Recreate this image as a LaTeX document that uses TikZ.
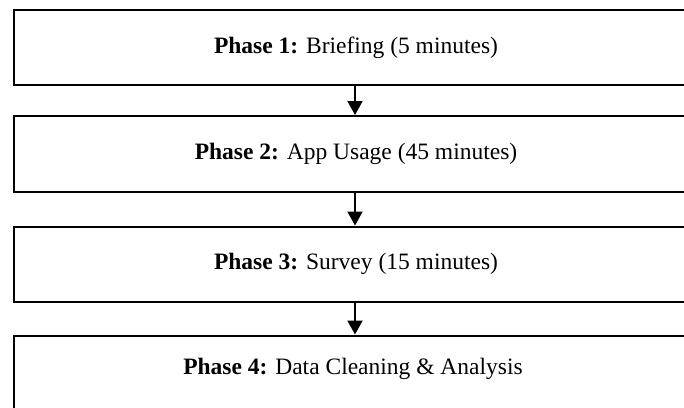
\documentclass[tikz,border=0pt]{standalone}
\usepackage{fontspec}
\setmainfont{Liberation Serif}
\usetikzlibrary{arrows.meta}
\begin{document}
\begin{tikzpicture}[x=1pt,y=-1pt,
  phasebox/.style={draw=black, line width=2pt, fill=white,
    minimum width=684pt, inner sep=0pt, font=\fontsize{23.5}{27}\selectfont},
  phasetext/.style={inner sep=0pt, font=\fontsize{23.5}{27}\selectfont},
  flow/.style={line width=2pt, -{Triangle[width=15pt,length=14pt]}}]
\useasboundingbox (0,0) rectangle (684,407);
\clip (0,0) rectangle (684,407);
\node[phasebox, minimum height=75pt] (p1) at (356,47.5) {\textbf{Phase 1:} Briefing (5 minutes)};
\node[phasebox, minimum height=76pt] (p2) at (356,154) {\textbf{Phase 2:} App Usage (45 minutes)};
\node[phasebox, minimum height=75.5pt] (p3) at (356,264.25) {\textbf{Phase 3:} Survey (15 minutes)};
\node[phasebox, minimum height=84pt] (p4) at (356,377.5) {};
\node[phasetext] (t4) at (353,369) {\textbf{Phase 4:} Data Cleaning \& Analysis};
\draw[flow] (p1.south -| 355,0) -- (p2.north -| 355,0);
\draw[flow] (p2.south -| 355,0) -- (p3.north -| 355,0);
\draw[flow] (p3.south -| 355,0) -- (p4.north -| 355,0);
\end{tikzpicture}
\end{document}
